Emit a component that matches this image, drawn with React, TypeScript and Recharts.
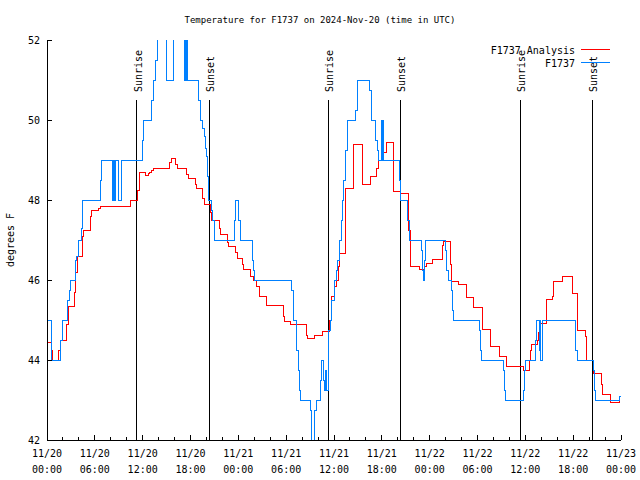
import React from 'react';
import { LineChart, Line, XAxis, YAxis, ReferenceLine, Legend } from 'recharts';

// ---- data (hours since 2024-11-20 00:00 UTC, degrees F) ----
const stationHours = [
  0, 0.6, 1.75, 1.9, 2.6, 2.85, 3.0, 3.6, 3.75, 4.0, 4.3, 4.4, 4.5, 6.7, 6.85,
  8.2, 8.35, 8.5, 8.65, 8.95, 9.4, 11.95, 12.1, 13.1, 13.3, 13.6, 13.8, 15.0, 15.85,
  17.2, 17.3, 17.4, 17.5, 17.6, 19.05, 19.2, 19.5, 19.7, 19.85, 19.95, 20.1, 20.3,
  20.65, 20.8, 21.0, 23.5, 23.65, 24.0, 24.25, 25.75, 25.9, 26.0, 30.73, 30.9, 31.24,
  31.3, 31.5, 31.65, 31.8, 33.0, 33.2, 33.6, 33.75, 34.25, 34.45, 34.7, 34.85, 34.95,
  35.05, 35.25, 35.3, 35.5, 35.7, 36.05, 36.3, 36.5, 36.7, 36.95, 37.05, 37.15, 37.4,
  37.5, 37.7, 38.65, 38.9, 40.45, 40.7, 41.15, 41.4, 41.55, 41.95, 42.05, 42.15, 42.25,
  44.2, 44.4, 45.2, 45.5, 47.0, 47.1, 47.25, 47.35, 47.45, 49.97, 50.15, 50.3, 50.7,
  50.85, 50.97, 54.2, 54.35, 54.5, 57.25, 57.35, 57.5, 59.75, 59.85, 60.0, 61.25, 61.4,
  61.75, 61.85, 61.95, 62.15, 66.3, 66.55, 68.5, 68.65, 68.8, 71.8, 72,
];
const stationTemps = [
  45, 44, 44.5, 45, 45.5, 45.75, 46, 46.5, 46.6, 47, 47.3, 47.8, 48, 48.5, 49,
  48, 49, 48, 49, 48, 49, 49.5, 50, 50.5, 51, 51.5, 53, 51, 53,
  51, 53, 51, 53, 51, 50.5, 50, 49.8, 49.6, 49.3, 49.1, 48.6, 48,
  47.75, 47.5, 47, 47.5, 48, 47.5, 47, 46.5, 46.25, 46, 45.75, 45, 44.75,
  44.25, 43.75, 43.25, 43, 42.75, 41.5, 42.75, 43, 43.5, 44, 43.5, 43.25, 43.75,
  43.25, 44, 44.75, 45, 45.5, 46, 46.25, 46.5, 47, 47.5, 48, 48.5, 49,
  49.25, 50, 50.25, 51, 50.75, 50, 49.5, 49.25, 49, 50, 49, 50, 49,
  48.5, 48, 47.5, 47, 46.75, 46.25, 46, 46.5, 47, 46.75, 46.25, 46, 45.75,
  45.25, 45, 44.75, 44.25, 44, 43.75, 43.25, 43, 43.25, 43.75, 44, 44.5, 45,
  44.25, 45, 44, 45, 44.25, 44, 43.75, 43.25, 43, 43.1, 43.1,
];

const analysisHours = [
  0, 0.55, 0.67, 1.45, 1.7, 2.5, 2.7, 3.5, 3.6, 3.8, 4.4, 4.6, 5.4, 5.6, 6.45, 6.7,
  10.5, 11.3, 11.65, 12.4, 12.7, 12.9, 13.1, 13.3, 15.4, 15.6, 16.15, 16.4, 17.5, 17.7,
  18.6, 18.7, 19.5, 19.7, 20.45, 20.6, 21.6, 21.8, 22.6, 22.8, 23.7, 23.9, 24.5, 24.6,
  25.5, 25.85, 26.3, 26.7, 27.5, 29.65, 29.75, 30.6, 32.5, 32.7, 33.6, 34.6, 35.45,
  35.65, 36.0, 36.3, 36.55, 36.67, 37.5, 38.5, 39.6, 40.6, 41.35, 41.6, 42.0, 42.6,
  43.5, 44.3, 45.3, 45.55, 46.7, 47.3, 47.6, 48.4, 49.6, 49.7, 50.6, 50.75, 51.6, 52.6,
  53.5, 54.65, 55.6, 56.7, 57.7, 58.6, 59.75, 60.55, 60.7, 60.8, 61.5, 61.7, 61.9, 62.6,
  63.4, 63.55, 64.6, 65.9, 66.55, 67.5, 67.7, 68.5, 69.5, 69.7, 70.7, 71.8, 72,
];
const analysisTemps = [
  44.45, 44.25, 44.0, 44.25, 44.5, 44.9, 45.35, 45.7, 46.2, 46.6, 47.08, 47.25, 47.6, 47.75, 47.8, 47.85,
  48.0, 48.25, 48.7, 48.62, 48.66, 48.7, 48.75, 48.78, 48.95, 49.05, 48.9, 48.8, 48.65, 48.55,
  48.4, 48.3, 48.05, 47.88, 47.7, 47.48, 47.3, 47.13, 46.95, 46.85, 46.7, 46.54, 46.4, 46.27,
  46.1, 46.0, 45.83, 45.58, 45.37, 45.08, 44.96, 44.9, 44.62, 44.54, 44.61, 44.72, 45.0,
  45.6, 45.85, 46.0, 46.33, 46.67, 48.3, 49.4, 48.38, 48.6, 48.78, 49.0, 49.2, 49.45,
  48.22, 48.17, 47.25, 46.33, 46.27, 46.35, 46.42, 46.52, 46.87, 46.96, 46.4, 45.96, 45.9, 45.57,
  45.32, 44.77, 44.33, 44.1, 43.83, 43.85, 43.75, 44.0, 44.25, 44.38, 44.5, 44.7, 44.92, 45.52,
  45.6, 45.96, 46.1, 45.67, 44.75, 44.6, 44.0, 43.67, 43.4, 43.14, 42.93, 43.08, 43.08,
];

const sunHours = [11.25, 20.37, 35.3, 44.33, 59.38, 68.4];
const sunLabels = ['Sunrise', 'Sunset', 'Sunrise', 'Sunset', 'Sunrise', 'Sunset'];
const sunLineTop = 50.5;

const xTicks = [0, 2, 4, 6, 8, 10, 12, 14, 16, 18, 20, 22, 24, 26, 28, 30, 32, 34, 36, 38, 40, 42, 44, 46, 48, 50, 52, 54, 56, 58, 60, 62, 64, 66, 68, 70, 72];
const xDayLabels = ['11/20', '11/20', '11/20', '11/20', '11/21', '11/21', '11/21', '11/21', '11/22', '11/22', '11/22', '11/22', '11/23'];
const xTimeLabels = ['00:00', '06:00', '12:00', '18:00', '00:00', '06:00', '12:00', '18:00', '00:00', '06:00', '12:00', '18:00', '00:00'];
const yTicks = [42, 44, 46, 48, 50, 52];

const titleText = 'Temperature for F1737 on 2024-Nov-20 (time in UTC)';
const yAxisTitle = 'degrees F';
const analysisName = 'F1737 Analysis';
const stationName = 'F1737';

const stationData = stationHours.map((h, i) => ({ h, v: stationTemps[i] }));
const analysisData = analysisHours.map((h, i) => ({ h, v: analysisTemps[i] }));

const FONT = 'DejaVu Sans Mono';
const RED = '#ff0000';
const BLUE = '#0080ff';

const BottomTick = (props: any) => {
  const { x, y, payload } = props;
  const v = payload.value;
  const major = v % 6 === 0;
  const idx = Math.round(v / 6);
  return (
    <g>
      <line x1={x} x2={x} y1={y} y2={y - (major ? 5 : 3)} stroke="#000" strokeWidth={1} shapeRendering="crispEdges" />
      {major && (
        <text x={x} y={y + 17} textAnchor="middle" fontFamily={FONT} fontSize={10} fill="#000">
          {xDayLabels[idx]}
        </text>
      )}
      {major && (
        <text x={x} y={y + 33} textAnchor="middle" fontFamily={FONT} fontSize={10} fill="#000">
          {xTimeLabels[idx]}
        </text>
      )}
    </g>
  );
};

const TopTick = (props: any) => {
  const { x, y, payload } = props;
  const major = payload.value % 6 === 0;
  return <line x1={x} x2={x} y1={y} y2={y + (major ? 5 : 3)} stroke="#000" strokeWidth={1} shapeRendering="crispEdges" />;
};

const LeftTick = (props: any) => {
  const { x, y, payload } = props;
  return (
    <g>
      <line x1={x} x2={x + 5} y1={y} y2={y} stroke="#000" strokeWidth={1} shapeRendering="crispEdges" />
      <text x={x - 7} y={y + 3.5} textAnchor="end" fontFamily={FONT} fontSize={10} fill="#000">
        {payload.value}
      </text>
    </g>
  );
};

const RightTick = (props: any) => {
  const { x, y } = props;
  return <line x1={x} x2={x - 5} y1={y} y2={y} stroke="#000" strokeWidth={1} shapeRendering="crispEdges" />;
};

const sunLabel = (text: string) => (props: any) => {
  const vb = props.viewBox || {};
  const lx = vb.x + 5;
  const ly = vb.y - 8;
  return (
    <text
      x={lx}
      y={ly}
      transform={`rotate(-90 ${lx} ${ly})`}
      textAnchor="start"
      fontFamily={FONT}
      fontSize={10}
      fill="#000"
    >
      {text}
    </text>
  );
};

const LegendBox = () => (
  <svg width={640} height={480} style={{ display: 'block', pointerEvents: 'none' }}>
    <text x={320} y={23} textAnchor="middle" fontFamily={FONT} fontSize={9} fill="#000">
      {titleText}
    </text>
    <text x={575} y={54} textAnchor="end" fontFamily={FONT} fontSize={10} fill="#000">
      {analysisName}
    </text>
    <line x1={581} x2={610} y1={49.5} y2={49.5} stroke={RED} strokeWidth={1} shapeRendering="crispEdges" />
    <text x={575} y={66.5} textAnchor="end" fontFamily={FONT} fontSize={10} fill="#000">
      {stationName}
    </text>
    <line x1={581} x2={610} y1={62.5} y2={62.5} stroke={BLUE} strokeWidth={1} shapeRendering="crispEdges" />
    <text
      x={14}
      y={240}
      transform="rotate(-90 14 240)"
      textAnchor="middle"
      fontFamily={FONT}
      fontSize={10}
      fill="#000"
    >
      {yAxisTitle}
    </text>
  </svg>
);

export default function App() {
  return (
    <div style={{ position: 'absolute', left: 0, top: 0, width: 640, height: 480, background: '#fff' }}>
      <LineChart
        width={640}
        height={480}
        margin={{ top: 40, right: 19, bottom: 0, left: 0 }}
        style={{ fontFamily: FONT }}
      >
        <XAxis
          dataKey="h"
          type="number"
          domain={[0, 72]}
          ticks={xTicks}
          interval={0}
          height={40}
          tickSize={0}
          tickMargin={0}
          tickLine={false}
          tick={<BottomTick />}
          axisLine={{ stroke: '#000', strokeWidth: 1, shapeRendering: 'crispEdges' }}
          allowDataOverflow
        />
        <XAxis
          xAxisId="top"
          orientation="top"
          dataKey="h"
          type="number"
          domain={[0, 72]}
          ticks={xTicks}
          interval={0}
          height={0}
          tickSize={0}
          tickMargin={0}
          tickLine={false}
          tick={<TopTick />}
          axisLine={{ stroke: '#000', strokeWidth: 1, shapeRendering: 'crispEdges' }}
        />
        <YAxis
          type="number"
          domain={[42, 52]}
          ticks={yTicks}
          interval={0}
          width={47}
          tickSize={0}
          tickMargin={0}
          tickLine={false}
          tick={<LeftTick />}
          axisLine={{ stroke: '#000', strokeWidth: 1, shapeRendering: 'crispEdges' }}
          allowDataOverflow
        />
        <YAxis
          yAxisId="right"
          orientation="right"
          type="number"
          domain={[42, 52]}
          ticks={yTicks}
          interval={0}
          width={0}
          tickSize={0}
          tickMargin={0}
          tickLine={false}
          tick={<RightTick />}
          axisLine={{ stroke: '#000', strokeWidth: 1, shapeRendering: 'crispEdges' }}
        />
        {sunHours.map((h, i) => (
          <ReferenceLine
            key={`sun-${i}`}
            segment={[
              { x: h, y: 42 },
              { x: h, y: sunLineTop },
            ]}
            stroke="#000"
            strokeWidth={1}
            shapeRendering="crispEdges"
            label={sunLabel(sunLabels[i])}
          />
        ))}
        <Line
          data={analysisData}
          dataKey="v"
          name={analysisName}
          type="stepAfter"
          stroke={RED}
          strokeWidth={1}
          dot={false}
          activeDot={false}
          shapeRendering="crispEdges"
          isAnimationActive={false}
        />
        <Line
          data={stationData}
          dataKey="v"
          name={stationName}
          type="stepAfter"
          stroke={BLUE}
          strokeWidth={1}
          dot={false}
          activeDot={false}
          shapeRendering="crispEdges"
          isAnimationActive={false}
        />
        <Legend
          layout="vertical"
          align="center"
          verticalAlign="middle"
          wrapperStyle={{ top: 0, left: 0, width: 640, height: 480, margin: 0, padding: 0, pointerEvents: 'none' }}
          content={() => <LegendBox />}
        />
      </LineChart>
    </div>
  );
}
